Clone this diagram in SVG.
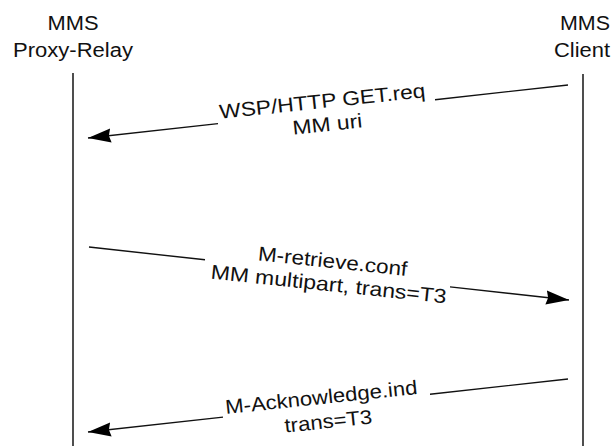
<svg xmlns="http://www.w3.org/2000/svg" width="611" height="448" viewBox="0 0 611 448">
  <style>
    .lbl { font-family: "Liberation Sans", Arial, sans-serif; font-size: 20px; fill: #111; text-anchor: middle; }
    .life { stroke: #222; stroke-width: 1.6; fill: none; }
    .msg { stroke: #111; stroke-width: 1.4; fill: none; marker-end: url(#head); }
  </style>
  <defs>
    <marker id="head" markerUnits="userSpaceOnUse" markerWidth="24" markerHeight="16" viewBox="0 0 24 16" refX="23" refY="8" orient="auto">
      <path d="M0,1 L23,8 L0,15 L2,8 z" fill="#000"/>
    </marker>
  </defs>

  <rect width="611" height="448" fill="#fff"/>

  <!-- MMS Proxy-Relay lifeline -->
  <g id="proxy-relay">
    <text class="lbl" x="73" y="30" textLength="51" lengthAdjust="spacingAndGlyphs">MMS</text>
    <text class="lbl" x="73" y="57" textLength="120" lengthAdjust="spacingAndGlyphs">Proxy-Relay</text>
    <line class="life" x1="73" y1="73" x2="73" y2="446"/>
  </g>

  <!-- MMS Client lifeline -->
  <g id="client">
    <text class="lbl" x="585" y="30" textLength="50" lengthAdjust="spacingAndGlyphs">MMS</text>
    <text class="lbl" x="582" y="57" textLength="56" lengthAdjust="spacingAndGlyphs">Client</text>
    <line class="life" x1="583" y1="74" x2="583" y2="446"/>
  </g>

  <!-- messages -->
  <g id="connectors">
    <path class="msg" d="M568,85 L435,99.7 M218,123.6 L88,138"/>
    <path class="msg" d="M89,247 L205,259.8 M450,286.9 L569,300"/>
    <path class="msg" d="M568,379 L430,394.2 M223,417.1 L88,432"/>
  </g>

  <g id="labels">
    <text class="lbl" x="323" y="108" transform="rotate(-6 323 108)" textLength="207" lengthAdjust="spacingAndGlyphs">WSP/HTTP GET.req</text>
    <text class="lbl" x="328" y="131" transform="rotate(-6 328 131)" textLength="70" lengthAdjust="spacingAndGlyphs">MM uri</text>

    <text class="lbl" x="332" y="268" transform="rotate(6 332 268)" textLength="150" lengthAdjust="spacingAndGlyphs">M-retrieve.conf</text>
    <text class="lbl" x="328" y="291" transform="rotate(6 328 291)" textLength="237" lengthAdjust="spacingAndGlyphs">MM multipart, trans=T3</text>

    <text class="lbl" x="322" y="404" transform="rotate(-6 322 404)" textLength="193" lengthAdjust="spacingAndGlyphs">M-Acknowledge.ind</text>
    <text class="lbl" x="329" y="428" transform="rotate(-6 329 428)" textLength="88" lengthAdjust="spacingAndGlyphs">trans=T3</text>
  </g>
</svg>
